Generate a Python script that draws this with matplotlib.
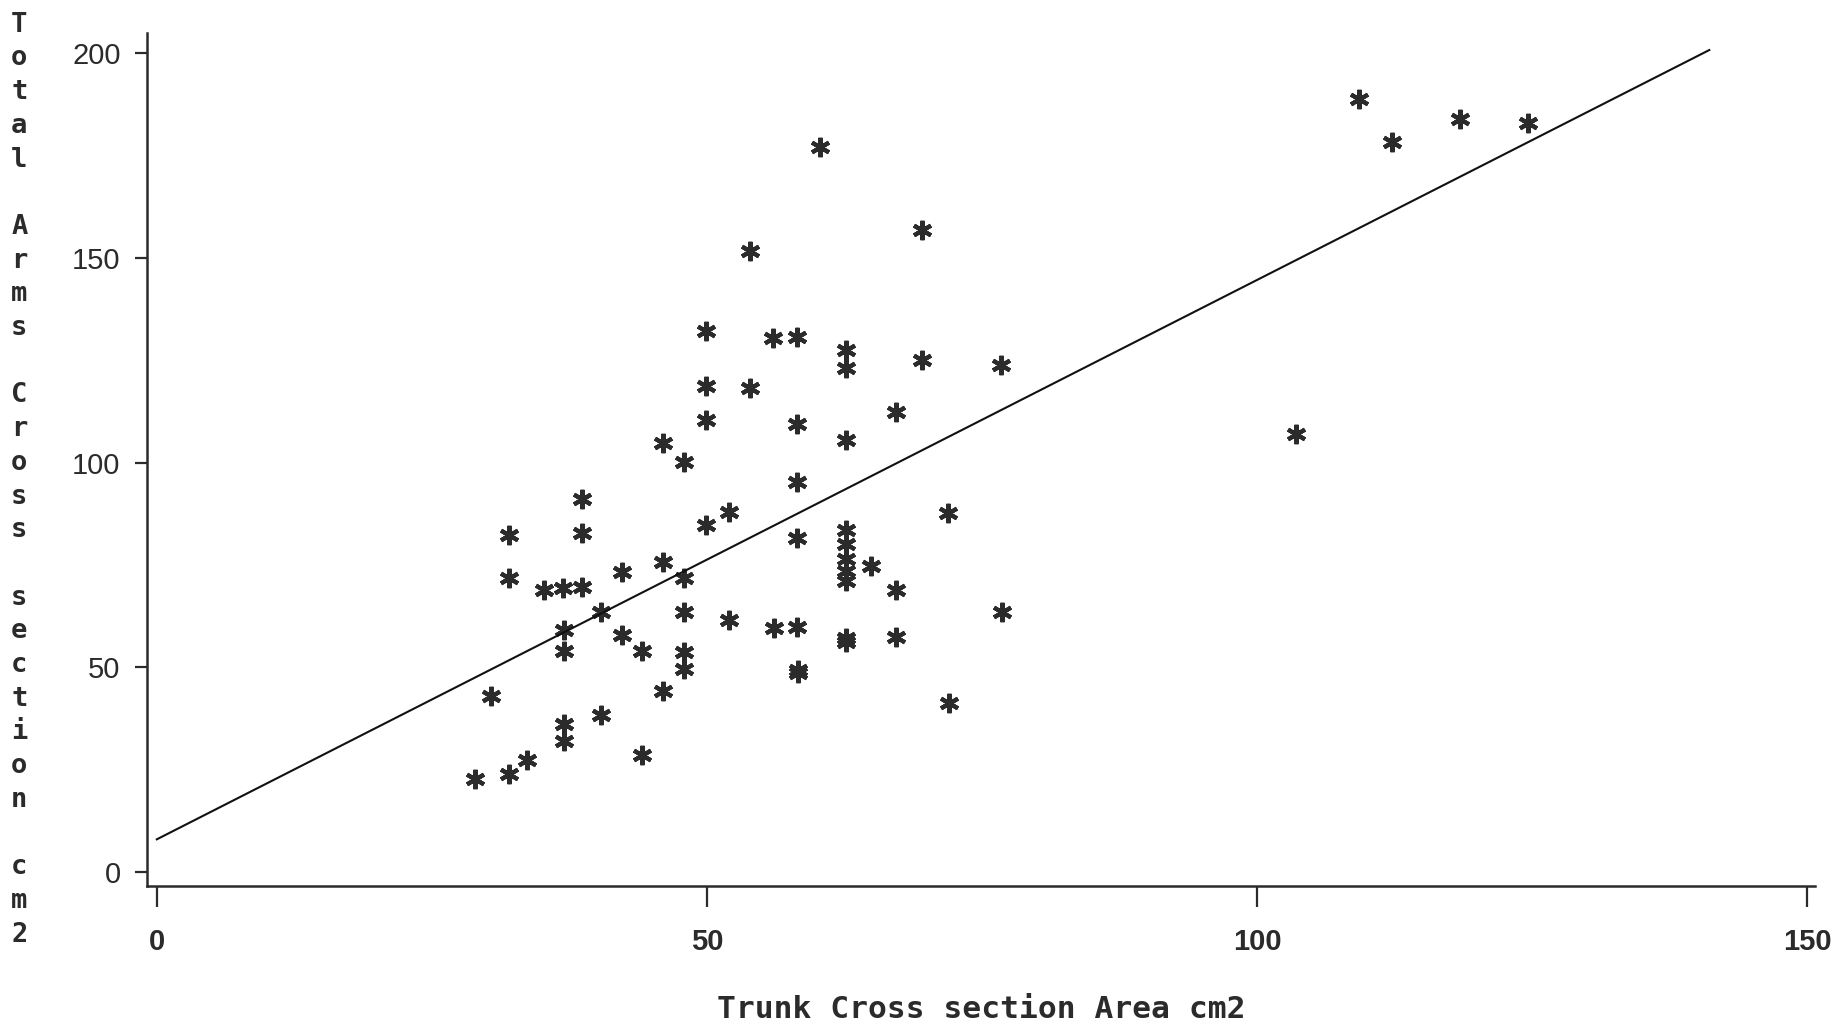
import numpy as np
import matplotlib

matplotlib.use('Agg')
import matplotlib.pyplot as plt

# trunk cross section area (x) vs total arms cross section (y)
trunk_area = [28.9, 32.0, 33.6, 30.4, 32.0, 32.0, 35.2, 36.9, 38.6, 38.6,
              38.6, 37.0, 37.0, 37.0, 37.0, 40.4, 40.4, 42.3, 42.3, 44.1,
              44.1, 46.0, 46.0, 47.9, 47.9, 47.9, 47.9, 47.9, 46.0, 49.9,
              49.9, 49.9, 49.9, 52.0, 52.0, 53.9, 53.9, 56.0, 58.2, 58.2,
              58.2, 58.2, 58.2, 56.1, 58.3, 58.3, 60.3, 62.6, 62.6, 62.6,
              62.6, 62.6, 62.6, 62.6, 62.6, 62.6, 62.6, 64.9, 67.2, 67.2,
              67.2, 69.5, 69.5, 71.9, 72.0, 76.7, 76.8, 103.5, 109.3, 112.3,
              118.4, 124.6]
arms_area = [22.7, 23.9, 27.3, 43.0, 82.3, 71.7, 68.9, 69.3, 69.7, 91.2,
             82.7, 59.1, 54.0, 36.1, 32.0, 38.3, 63.6, 73.3, 57.9, 54.0,
             28.6, 75.8, 104.7, 100.2, 71.7, 63.6, 53.8, 49.7, 44.3, 132.2,
             118.7, 110.4, 84.7, 88.0, 61.5, 151.7, 118.1, 130.3, 130.7, 109.5,
             95.3, 81.5, 59.9, 59.5, 48.5, 49.3, 177.1, 127.5, 123.0, 105.5,
             83.5, 80.0, 76.5, 73.5, 71.0, 57.1, 56.3, 74.7, 112.4, 68.9,
             57.3, 156.8, 125.0, 87.6, 41.2, 123.8, 63.5, 107.1, 188.9, 178.3,
             184.0, 183.0]

# fitted line as drawn on the original
fit_intercept = 8.0
fit_slope = 1.366
fit_xmax = 141.1

x_ticks = [0, 50, 100, 150]
y_ticks = [0, 50, 100, 150, 200]
x_label = 'Trunk Cross section Area cm2'
y_label = 'Total Arms Cross section cm2'

ink = '#2b2b2b'

fig = plt.figure(figsize=(18.48, 10.25), dpi=100)
ax = fig.add_axes([0.0795, 0.1356, 0.9026, 0.8322])

ax.plot(trunk_area, arms_area, linestyle='none', marker=(6, 2, 0),
        markersize=14, markeredgewidth=3.0, color=ink)

line_x = np.array([0, fit_xmax])
ax.plot(line_x, fit_intercept + fit_slope * line_x, color='#111111', linewidth=1.5)

ax.set_xlim(-0.9, 150.7)
ax.set_ylim(-3.4, 204.9)

for side in ['top', 'right']:
    ax.spines[side].set_visible(False)
for side in ['left', 'bottom']:
    ax.spines[side].set_linewidth(1.8)
    ax.spines[side].set_color(ink)

ax.set_xticks(x_ticks)
ax.set_yticks(y_ticks)
ax.set_xticklabels([str(v) for v in x_ticks], fontfamily='Liberation Sans',
                   fontweight='bold', fontsize=21, color=ink)
ax.set_yticklabels([str(v) for v in y_ticks], fontfamily='Liberation Sans',
                   fontsize=21, color=ink)
ax.tick_params(axis='x', direction='out', length=15, width=1.6, pad=15, colors=ink)
ax.tick_params(axis='y', direction='out', length=9, width=1.6, pad=10, colors=ink)

fig.text(0.531, 0.0156, x_label, ha='center', va='center',
         fontfamily='DejaVu Sans Mono', fontweight='bold', fontsize=22.5, color=ink)
fig.text(0.006, 0.532, '\n'.join(y_label), ha='left', va='center',
         fontfamily='DejaVu Sans Mono', fontweight='bold', fontsize=19.5,
         linespacing=1.385, color=ink)

plt.savefig('out.png', dpi=100)
plt.close('all')
